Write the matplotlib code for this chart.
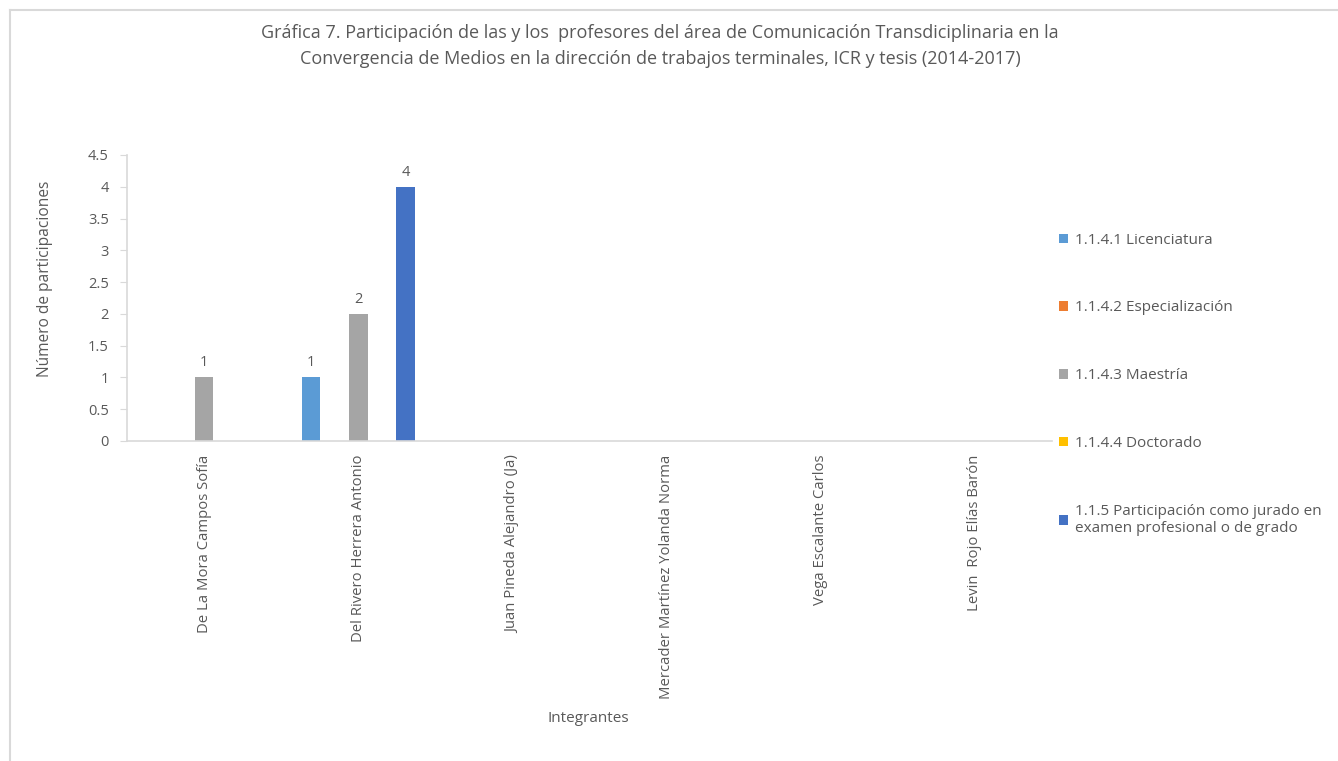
import matplotlib.pyplot as plt
import numpy as np
from matplotlib.lines import Line2D
from matplotlib.patches import Patch

plt.rcParams['font.family'] = ['Open Sans', 'DejaVu Sans']

# Data
integrantes = [
    "De La Mora Campos Sofía",
    "Del Rivero Herrera Antonio",
    "Juan Pineda Alejandro (Ja)",
    "Mercader Martínez Yolanda Norma",
    "Vega Escalante Carlos",
    "Levin  Rojo Elías Barón",
]
series_names = [
    "1.1.4.1 Licenciatura",
    "1.1.4.2 Especialización",
    "1.1.4.3 Maestría",
    "1.1.4.4 Doctorado",
    "1.1.5 Participación como jurado en\nexamen profesional o de grado",
]
licenciatura = [0, 1, 0, 0, 0, 0]
especializacion = [0, 0, 0, 0, 0, 0]
maestria = [1, 2, 0, 0, 0, 0]
doctorado = [0, 0, 0, 0, 0, 0]
jurado = [0, 4, 0, 0, 0, 0]
series_values = [licenciatura, especializacion, maestria, doctorado, jurado]
colors = ["#5B9BD5", "#ED7D31", "#A5A5A5", "#FFC000", "#4472C4"]

TXT = "#595959"
W, H = 1338, 761
fig = plt.figure(figsize=(W / 100, H / 100), dpi=100)
ax = fig.add_axes([127 / W, 1 - 441 / H, (1052 - 127) / W, (441 - 155) / H])

x = np.arange(len(integrantes))
step, width = 0.154, 0.12
for i, (vals, c) in enumerate(zip(series_values, colors)):
    bars = ax.bar(x + (i - 2) * step, vals, width, color=c)
    labels = [str(v) if v else "" for v in vals]
    ax.bar_label(bars, labels=labels, padding=5, color=TXT, fontsize=10.5)

ax.set_xlim(-0.5, len(integrantes) - 0.5)
ax.set_ylim(0, 4.5)
ax.set_yticks(np.arange(0, 4.51, 0.5))
ax.set_yticklabels([f"{v:g}" for v in np.arange(0, 4.51, 0.5)])
ax.set_xticks(x)
ax.set_xticklabels(integrantes, rotation=90, fontsize=10.7, color=TXT)
ax.tick_params(axis='x', length=0, pad=10)
ax.tick_params(axis='y', length=5, color="#D9D9D9", labelsize=10.5, labelcolor=TXT, pad=8)
for s in ("top", "right"):
    ax.spines[s].set_visible(False)
for s in ("left", "bottom"):
    ax.spines[s].set_color("#D9D9D9")
    ax.spines[s].set_linewidth(1.2)

fig.text(45 / W, 1 - 279 / H, "Número de participaciones", rotation=90,
         ha='center', va='center', color=TXT, fontsize=11.2)
fig.text(588 / W, 1 - 719 / H, "Integrantes", ha='center', va='center',
         color=TXT, fontsize=11)
fig.text(660 / W, 1 - 46 / H,
         "Gráfica 7. Participación de las y los  profesores del área de Comunicación Transdiciplinaria en la\n"
         "Convergencia de Medios en la dirección de trabajos terminales, ICR y tesis (2014-2017)",
         ha='center', va='center', color=TXT, fontsize=13, linespacing=1.6)

handles = [Patch(facecolor=c) for c in colors]
leg = fig.legend(handles, series_names, loc='upper left',
                 bbox_to_anchor=(1045 / W, 1 - 219 / H), frameon=False,
                 fontsize=11, labelcolor=TXT, handlelength=0.6, handleheight=0.6,
                 handletextpad=0.45, labelspacing=3.45)

# chart-area border (left and top edges visible)
fig.add_artist(Line2D([9.5 / W, 9.5 / W], [0, 1 - 9.5 / H], color="#D9D9D9", lw=1.5))
fig.add_artist(Line2D([9.5 / W, 1], [1 - 9.5 / H, 1 - 9.5 / H], color="#D9D9D9", lw=1.5))

fig.savefig("out.png", dpi=100)
